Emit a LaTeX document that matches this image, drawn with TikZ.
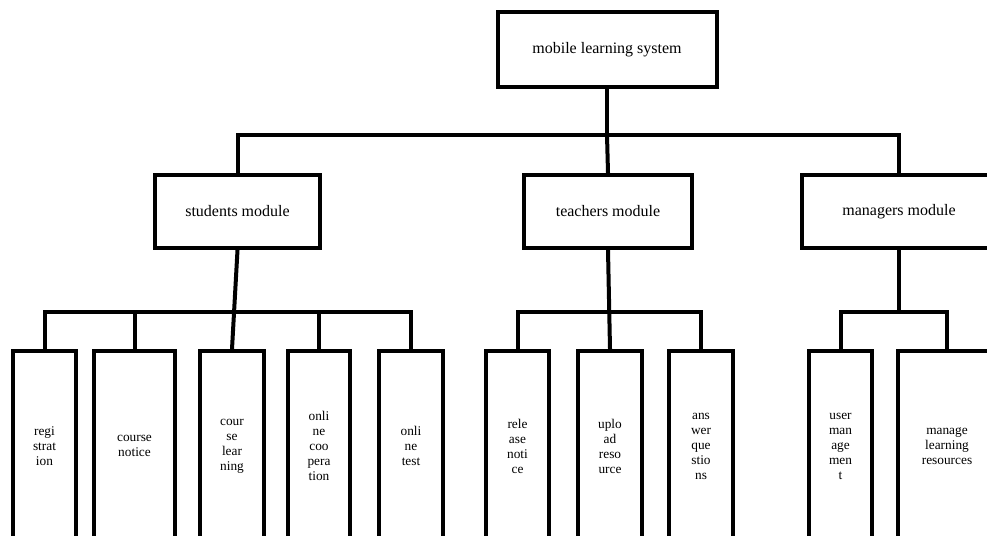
\documentclass[tikz,border=0pt]{standalone}
\usepackage{fontspec}
\setmainfont{Liberation Serif}
\usetikzlibrary{positioning, calc}
\tikzset{
    wire/.style={line width=3pt, line cap=rect},
    topB/.style={draw, line width=3pt, fill=white, inner sep=0pt, minimum width=219*0.75pt, minimum height=74*0.75pt, font=\fontsize{12}{14}\selectfont},
    modB/.style={draw, line width=3pt, fill=white, inner sep=0pt, minimum height=73*0.75pt, font=\fontsize{12}{14}\selectfont},
    leafB/.style={draw, line width=3pt, fill=white, inner sep=0pt, minimum height=190*0.75pt, align=center, font=\fontsize{10}{11.25}\selectfont}
}

\begin{document}
\begin{tikzpicture}[x=0.75pt, y=-0.75pt]
    \useasboundingbox (0,0) rectangle (987,535);
    \clip (0,0) rectangle (987,535);
    \def \bus {312}
    % top and modules
    \node[topB] (sys) at (607,49.5) {mobile learning system};
    \node[modB, minimum width=165*0.75pt] (stu) at (237.5,211.5) {students module};
    \node[modB, minimum width=168*0.75pt] (tea) at (608,211.5) {teachers module};
    \node[modB, minimum width=194*0.75pt] (mgr) at (899,211.5) {managers module};
    % leaves, the boxes run past the lower edge
    \node[leafB, minimum width=63*0.75pt] (reg) at (44.5,446) {regi\\strat\\ion};
    \node[leafB, minimum width=81*0.75pt] (ntc) at (134.5,446) {course\\notice};
    \node[leafB, minimum width=64*0.75pt] (lrn) at (232,446) {cour\\se\\lear\\ning};
    \node[leafB, minimum width=62*0.75pt] (coo) at (319,446) {onli\\ne\\coo\\pera\\tion};
    \node[leafB, minimum width=64*0.75pt] (tst) at (411,446) {onli\\ne\\test};
    \node[leafB, minimum width=63*0.75pt] (rel) at (517.5,446) {rele\\ase\\noti\\ce};
    \node[leafB, minimum width=64*0.75pt] (upl) at (610,446) {uplo\\ad\\reso\\urce};
    \node[leafB, minimum width=64*0.75pt] (ans) at (701,446) {ans\\wer\\que\\stio\\ns};
    \node[leafB, minimum width=63*0.75pt] (usr) at (840.5,446) {user\\man\\age\\men\\t};
    \node[leafB, minimum width=98*0.75pt] (res) at (947,446) {manage\\learning\\resources};
    % connectors
    \coordinate (b0) at (607,135);
    \coordinate (b1) at (235,\bus);
    \coordinate (b2) at (609,\bus);
    \coordinate (b3) at (899,\bus);
    \draw[wire] (sys.south) -- (b0);
    \draw[wire] (stu.north) |- (b0) -| (mgr.north);
    \draw[wire] (b0) -- (tea.north);
    \draw[wire] (stu.south) -- (lrn.north);
    \draw[wire] (reg.north) |- (b1) -| (tst.north);
    \draw[wire] (ntc.north) -- (ntc.north |- b1);
    \draw[wire] (coo.north) -- (coo.north |- b1);
    \draw[wire] (tea.south) -- (upl.north);
    \draw[wire] (rel.north) |- (b2) -| (ans.north);
    \draw[wire] (mgr.south) -- (b3);
    \draw[wire] (usr.north) |- (b3) -| (res.north);
\end{tikzpicture}
\end{document}
